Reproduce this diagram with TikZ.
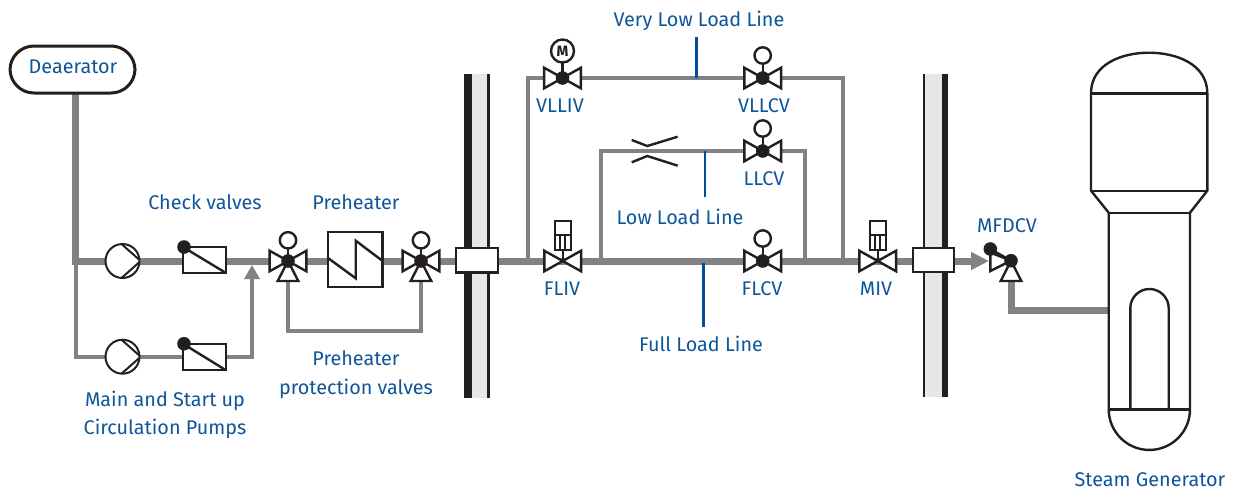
\documentclass[tikz,border=0pt]{standalone}
\usepackage{fontspec}
\setmainfont{Fira Sans}
\usetikzlibrary{arrows.meta}
\definecolor{pipegray}{HTML}{808285}
\definecolor{wallgray}{HTML}{E6E7E8}
\definecolor{symblack}{HTML}{231F20}
\definecolor{labelblue}{HTML}{0F5599}
\definecolor{leaderblue}{HTML}{004F9F}
\tikzset{
  x=1pt,y=-1pt,
  thickpipe/.style={draw=pipegray,line width=7pt,line join=miter},
  thinpipe/.style={draw=pipegray,line width=4pt,line join=miter},
  sym/.style={draw=symblack,line width=2.4pt,line join=miter},
  thinsym/.style={draw=symblack,line width=2pt},
  leader/.style={draw=leaderblue,line width=2.6pt},
  lab/.style={text=labelblue,font=\fontsize{19.8}{22}\selectfont,inner sep=0pt,outer sep=0pt,anchor=center},
  box/.style={sym,fill=white,shape=rectangle,inner sep=0pt,outer sep=0pt},
  bowtie/.pic={
    \filldraw[sym,fill=white] (0,0)--(-18.4,-10.3)--(-18.4,10.3)--cycle;
    \filldraw[sym,fill=white] (0,0)--(18.4,-10.3)--(18.4,10.3)--cycle;
  },
  ball/.pic={\fill[symblack] (0,0) circle[radius=6.8];},
  handwheel/.pic={
    \draw[sym] (0,0)--(0,-14);
    \filldraw[sym,fill=white] (0,-22.5) circle[radius=8.2];
  },
  threeway/.pic={
    \draw[sym] (0,0)--(0,-12);
    \filldraw[sym,fill=white] (0,-20.7) circle[radius=8.2];
    \filldraw[sym,fill=white] (0,0)--(-18.4,-10.3)--(-18.4,10.3)--cycle;
    \filldraw[sym,fill=white] (0,0)--(18.4,-10.3)--(18.4,10.3)--cycle;
    \filldraw[sym,fill=white] (0,0)--(-10.3,20)--(10.3,20)--cycle;
    \fill[symblack] (0,0) circle[radius=6.8];
  },
  actuator/.pic={
    \draw[sym] (0,0)--(0,-11);
    \draw[thinsym,fill=white] (-8,-40)rectangle(8,-11.5);
    \draw[thinsym] (-8,-26.5)--(8,-26.5);
    \draw[thinsym] (-2.7,-26.5)--(-2.7,-11.5) (2.7,-26.5)--(2.7,-11.5);
  },
  pumpmark/.pic={
    \draw[thinsym,line join=miter] (-1,-17)--(16.5,-1.5) (16.5,1.5)--(-1,17);
  }
}
\begin{document}
\begin{tikzpicture}
\useasboundingbox (0,0) rectangle (1236,490);

% walls
\fill[wallgray] (465,74) rectangle (489,398);
\fill[symblack] (464,74) rectangle (471.7,398);
\fill[symblack] (486.8,74) rectangle (490,398);
\fill[wallgray] (923,74) rectangle (947,397);
\fill[symblack] (922.7,74) rectangle (925,397);
\fill[symblack] (942,74) rectangle (947.7,397);

% coordinates
\coordinate (deatop) at (75.3,94);
\coordinate (corner) at (75.3,261);
\coordinate (thincorner) at (76,356.7);
\coordinate (thinstart) at (76,261);
\coordinate (vA) at (288,261);
\coordinate (vB) at (421,261);
\coordinate (fliv) at (562.7,261);
\coordinate (flcv) at (762.7,261);
\coordinate (miv) at (877.7,261);
\coordinate (vlliv) at (562.5,78);
\coordinate (vllcv) at (762.7,78);
\coordinate (llcv) at (762.7,151);
\coordinate (vlA) at (527.7,261);
\coordinate (vlB) at (527.7,78);
\coordinate (vlC) at (842.7,78);
\coordinate (vlD) at (842.7,261);
\coordinate (llA) at (600.7,261);
\coordinate (llB) at (600.7,151);
\coordinate (llC) at (805,151);
\coordinate (llD) at (805,261);
\coordinate (arrowcorner) at (252,356.7);
\coordinate (arrowtip) at (252,265);
\coordinate (loopA) at (288,331);
\coordinate (loopB) at (421,331);
\coordinate (vAfoot) at (288,281);
\coordinate (vBfoot) at (421,281);
\coordinate (sleeveout) at (954,261);
\coordinate (maintip) at (989,261);
\coordinate (mfd) at (1011,260.7);
\coordinate (mfdball) at (990.3,249);
\coordinate (mfdfoot) at (1011,281);
\coordinate (sgcorner) at (1011,310);
\coordinate (sgin) at (1109,310);
\coordinate (vlleadtop) at (696.7,36.7);
\coordinate (vllead) at (696.7,78);
\coordinate (llleadtop) at (705,151);
\coordinate (llleadbot) at (705,197);
\coordinate (flleadtop) at (703.3,263);
\coordinate (flleadbot) at (703.3,326.7);

% pipes
\draw[thinpipe] (thinstart) -- (thincorner) -- (arrowcorner);
\draw[thinpipe,line cap=rect,-{Triangle[length=14pt,width=15pt]}] (arrowcorner) -- (arrowtip);
\draw[thinpipe] (vAfoot) -- (loopA) -- (loopB) -- (vBfoot);
\draw[thinpipe] (vlA) -- (vlB) -- (vlC) -- (vlD);
\draw[thinpipe] (llA) -- (llB) -- (llC) -- (llD);
\draw[thickpipe] (deatop) -- (corner) -- (vA) -- (vB) -- (fliv) -- (flcv) -- (miv) -- (sleeveout);
\draw[thickpipe,-{Triangle[length=18pt,width=17pt]}] (sleeveout) -- (maintip);
\draw[draw=pipegray,line width=7pt,line join=miter] (mfdfoot) -- (sgcorner) -- (sgin);

% leaders
\draw[leader] (vlleadtop) -- (vllead);
\draw[leader] (llleadtop) -- (llleadbot);
\draw[leader] (flleadtop) -- (flleadbot);

% deaerator
\node[sym,line width=3pt,fill=white,shape=rectangle,rounded corners=24pt,minimum width=125pt,minimum height=47pt,inner sep=0pt,outer sep=0pt] (deaerator) at (72.5,69.5) {};
\node[lab] (tdeaerator) at (73,67) {Deaerator};

% pumps
\node[thinsym,fill=white,shape=circle,minimum size=34pt,inner sep=0pt,outer sep=0pt] (pump1) at (122.5,261) {};
\pic at (pump1) {pumpmark};
\node[thinsym,fill=white,shape=circle,minimum size=34pt,inner sep=0pt,outer sep=0pt] (pump2) at (122.5,356.7) {};
\pic at (pump2) {pumpmark};

% check valves
\node[box,minimum width=43pt,minimum height=26pt] (check1) at (204.5,260) {};
\draw[sym] (check1.north west) -- (check1.south east);
\fill[symblack] (check1.north west)++(1,0) circle[radius=6.8];
\node[box,minimum width=43pt,minimum height=26.5pt] (check2) at (204.5,357) {};
\draw[sym] (check2.north west) -- (check2.south east);
\fill[symblack] (check2.north west)++(1,0) circle[radius=6.8];

% preheater
\node[box,minimum width=54.3pt,minimum height=55pt] (preheater) at (355.2,259.5) {};
\draw[sym] (328,258) -- (355.7,278.3) -- (355.7,240.7) -- (382.3,260.7);

% wall sleeves
\node[box,minimum width=41.7pt,minimum height=24.6pt] (sleeve1) at (476.9,260) {};
\node[box,minimum width=41.3pt,minimum height=24.4pt] (sleeve2) at (933.4,260) {};

% valves
\pic at (vA) {threeway};
\pic at (vB) {threeway};
\pic at (fliv) {actuator};
\pic at (fliv) {bowtie};
\pic at (miv) {actuator};
\pic at (miv) {bowtie};
\pic at (flcv) {handwheel};
\pic at (flcv) {bowtie};
\pic at (flcv) {ball};
\pic at (vllcv) {handwheel};
\pic at (vllcv) {bowtie};
\pic at (vllcv) {ball};
\pic at (llcv) {handwheel};
\pic at (llcv) {bowtie};
\pic at (llcv) {ball};
\draw[sym] (vlliv) -- (562.5,62);
\pic at (vlliv) {bowtie};
\pic at (vlliv) {ball};
\node[sym,fill=white,shape=circle,minimum size=23pt,inner sep=0pt,outer sep=0pt,font=\fontsize{15}{15}\selectfont\bfseries,text=symblack] (motor) at (562.5,51) {M};

% orifice
\draw[sym] (631.7,140) -- (647.3,146) -- (677.7,136.7);
\draw[sym] (631.7,162.3) -- (647.3,156) -- (677.7,165.7);

% MFDCV
\filldraw[sym,fill=white] (mfd) -- (990.3,252.5) -- (990.3,271) -- cycle;
\filldraw[sym,fill=white] (mfd) -- (1000.7,281) -- (1021.3,281) -- cycle;
\draw[sym] (mfdball) -- (mfd);
\pic at (mfdball) {ball};
\pic at (mfd) {ball};

% steam generator
\draw[sym,fill=white] (1091,93.3) .. controls (1091,64) and (1122,52.7) .. (1149,52.7)
  .. controls (1176,52.7) and (1207.3,64) .. (1207.3,93.3) -- (1207.3,190.7) -- (1190,212.7)
  -- (1190,409.3) arc[start angle=0,end angle=180,x radius=40.65,y radius=40.65] -- (1108.7,212.7) -- (1091,190.7) -- cycle;
\draw[sym] (1091,93.3) -- (1207.3,93.3);
\draw[sym] (1091,190.7) -- (1207.3,190.7);
\draw[sym] (1108.7,212.7) -- (1190,212.7);
\draw[sym] (1108.7,409.3) -- (1190,409.3);
\draw[sym] (1130.3,409.3) -- (1130.3,308.2) arc[start angle=180,end angle=0,x radius=19.2,y radius=-19.2] -- (1168.7,409.3);

% labels
\node[lab] (t1) at (205,202) {Check valves};
\node[lab] (t2) at (356,202) {Preheater};
\node[lab] (t3) at (356,358.5) {Preheater};
\node[lab] (t4) at (356,388.5) {protection valves};
\node[lab] (t5) at (165,401) {Main and Start up};
\node[lab] (t6) at (165,429) {Circulation Pumps};
\node[lab] (t7) at (699,21) {Very Low Load Line};
\node[lab] (t8) at (560,106) {VLLIV};
\node[lab] (t9) at (764,106) {VLLCV};
\node[lab] (t10) at (764,179) {LLCV};
\node[lab] (t11) at (680,217) {Low Load Line};
\node[lab] (t12) at (562,289) {FLIV};
\node[lab] (t13) at (762,289) {FLCV};
\node[lab] (t14) at (701,344) {Full Load Line};
\node[lab] (t15) at (876,289) {MIV};
\node[lab] (t16) at (1007,226) {MFDCV};
\node[lab] (t17) at (1150,480) {Steam Generator};
\end{tikzpicture}
\end{document}
